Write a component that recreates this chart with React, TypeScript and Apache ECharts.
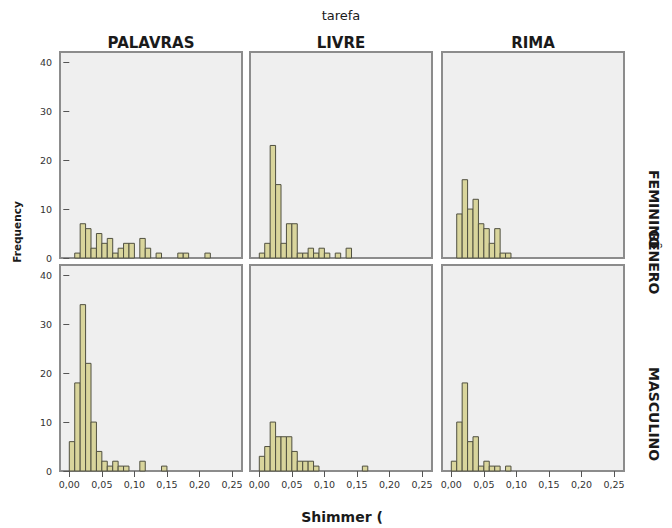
import React, { useEffect, useRef } from "react";
import * as echarts from "echarts";

// Histogram of Shimmer by task (columns) and gender (rows).
// Each array holds the count in consecutive bins of width 0.25 / 30, starting at 0.
const BIN_WIDTH = 0.25 / 30;

const palavrasFeminino = [0, 1, 7, 6, 2, 5, 3, 4, 1, 2, 3, 3, 0, 4, 2, 0, 1, 0, 0, 0, 1, 1, 0, 0, 0, 1];
const livreFeminino = [1, 3, 23, 15, 3, 7, 7, 1, 1, 2, 1, 2, 1, 0, 1, 0, 2];
const rimaFeminino = [0, 9, 16, 10, 12, 7, 6, 3, 6, 1, 1];
const palavrasMasculino = [6, 18, 34, 22, 10, 4, 2, 1, 2, 1, 1, 0, 0, 2, 0, 0, 0, 1];
const livreMasculino = [3, 5, 10, 7, 7, 7, 4, 2, 2, 2, 1, 0, 0, 0, 0, 0, 0, 0, 0, 1];
const rimaMasculino = [2, 10, 18, 6, 7, 1, 2, 1, 1, 0, 1];

const tarefas = ["PALAVRAS", "LIVRE", "RIMA"];
const generos = ["FEMININO", "MASCULINO"];
const xTicks = [0, 0.05, 0.1, 0.15, 0.2, 0.25];
const yTicks = [0, 10, 20, 30, 40];

const panelCounts = [
  palavrasFeminino, livreFeminino, rimaFeminino,
  palavrasMasculino, livreMasculino, rimaMasculino,
];

const FONT = "DejaVu Sans";
const colLefts = [60, 250, 442];
const rowTops = [52, 265];
const PANEL_W = 182;
const PANEL_H = 206;

function toBins(counts: number[]) {
  const out: number[][] = [];
  counts.forEach((c, k) => {
    if (c > 0) out.push([k * BIN_WIDTH, (k + 1) * BIN_WIDTH, c]);
  });
  return out;
}

export default function App() {
  const ref = useRef<HTMLDivElement>(null);

  useEffect(() => {
    if (!ref.current) return;
    const chart = echarts.init(ref.current, undefined, { renderer: "svg" });

    const grids: any[] = [];
    const xAxes: any[] = [];
    const yAxes: any[] = [];
    const series: any[] = [];

    panelCounts.forEach((counts, i) => {
      const row = Math.floor(i / 3);
      const col = i % 3;
      grids.push({
        left: colLefts[col],
        top: rowTops[row],
        width: PANEL_W,
        height: PANEL_H,
        show: true,
        backgroundColor: "#efefef",
        borderColor: "#8c8c8c",
        borderWidth: 2,
        containLabel: false,
      });
      xAxes.push({
        type: "value",
        gridIndex: i,
        min: -0.0143,
        max: 0.2653,
        axisLine: { show: false },
        splitLine: { show: false },
        axisTick: {
          show: row === 1,
          customValues: xTicks,
          length: 6,
          lineStyle: { color: "#555", width: 1 },
        },
        axisLabel: {
          show: row === 1,
          customValues: xTicks,
          margin: 8,
          fontSize: 9.5,
          fontFamily: FONT,
          color: "#333",
          formatter: (v: number) => v.toFixed(2).replace(".", ","),
        },
      });
      yAxes.push({
        type: "value",
        gridIndex: i,
        min: 0,
        max: 42.1,
        axisLine: { show: false },
        splitLine: { show: false },
        axisTick: {
          show: col === 0,
          customValues: yTicks,
          length: 6,
          lineStyle: { color: "#555", width: 1 },
        },
        axisLabel: {
          show: col === 0,
          customValues: yTicks,
          margin: 8,
          fontSize: 9.5,
          fontFamily: FONT,
          color: "#333",
        },
      });
      series.push({
        type: "custom",
        xAxisIndex: i,
        yAxisIndex: i,
        data: toBins(counts),
        encode: { x: [0, 1], y: 2 },
        renderItem: (_params: any, api: any) => {
          const top = api.coord([api.value(0), api.value(2)]);
          const base = api.coord([api.value(1), 0]);
          return {
            type: "rect",
            shape: {
              x: top[0],
              y: top[1],
              width: base[0] - top[0],
              height: base[1] - top[1],
            },
            style: { fill: "#d9d59c", stroke: "#505040", lineWidth: 1 },
          };
        },
      });
    });

    const text = (t: string, x: number, y: number, size: number, bold: boolean, align: string, rotation = 0) => ({
      type: "text",
      x,
      y,
      rotation,
      style: {
        text: t,
        fontSize: size,
        fontWeight: bold ? "bold" : "normal",
        fontFamily: FONT,
        fill: "#1a1a1a",
        textAlign: align,
        textVerticalAlign: "middle",
        align,
        verticalAlign: "middle",
      },
    });

    const graphic: any[] = [
      text("tarefa", 341, 15, 13, false, "center"),
      ...tarefas.map((t, c) => text(t, colLefts[c] + PANEL_W / 2, 43, 15, true, "center")),
      text(generos[0], 654, 170, 14, true, "left", -Math.PI / 2),
      text("GÊNERO", 654, 262, 14, true, "center", -Math.PI / 2),
      text(generos[1], 654, 367, 14, true, "left", -Math.PI / 2),
      text("Frequency", 17, 232, 10.5, true, "center", Math.PI / 2),
      text("Shimmer (", 342, 517, 14, true, "center"),
    ];

    chart.setOption({
      animation: false,
      backgroundColor: "#ffffff",
      grid: grids,
      xAxis: xAxes,
      yAxis: yAxes,
      series,
      graphic,
    });

    return () => chart.dispose();
  }, []);

  return (
    <div
      ref={ref}
      style={{ position: "fixed", left: 0, top: 0, width: 672, height: 528 }}
    />
  );
}
